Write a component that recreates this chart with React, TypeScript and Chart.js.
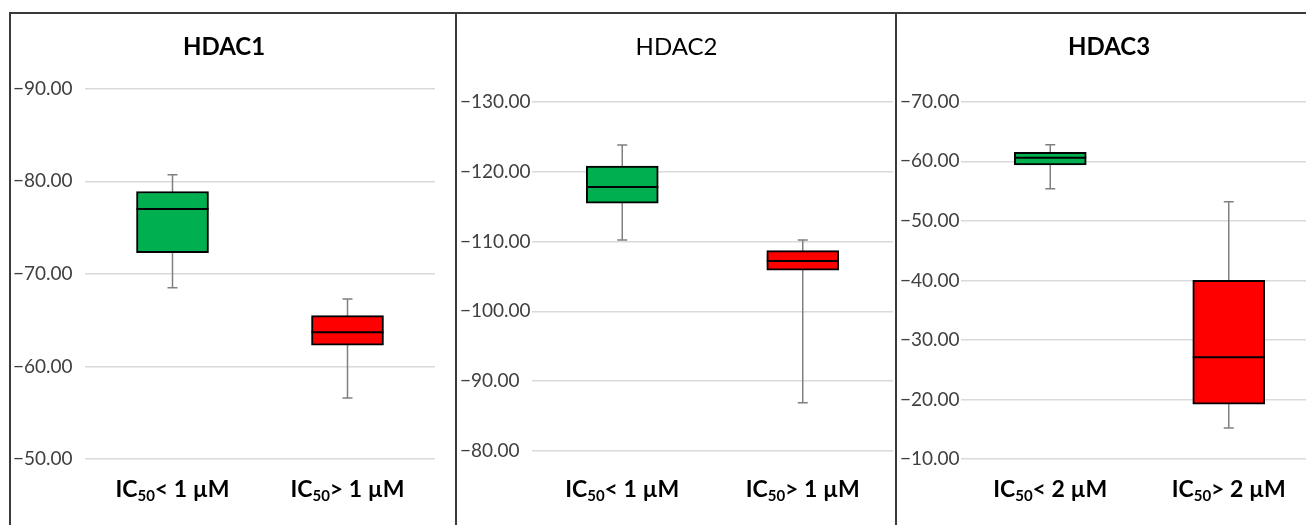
import React, { useEffect, useRef } from "react";
import { Chart, registerables } from "chart.js";
Chart.register(...registerables);

// ---------- data ----------
const hdac1Categories = ["IC50< 1 µM", "IC50> 1 µM"];
const hdac1WhiskerLow = [-80.7, -67.3];
const hdac1Q1 = [-78.9, -65.5];
const hdac1Median = [-77.0, -63.7];
const hdac1Q3 = [-72.3, -62.3];
const hdac1WhiskerHigh = [-68.5, -56.6];

const hdac2Categories = ["IC50< 1 µM", "IC50> 1 µM"];
const hdac2WhiskerLow = [-123.8, -110.2];
const hdac2Q1 = [-120.8, -108.7];
const hdac2Median = [-117.8, -107.2];
const hdac2Q3 = [-115.5, -105.9];
const hdac2WhiskerHigh = [-110.2, -86.9];

const hdac3Categories = ["IC50< 2 µM", "IC50> 2 µM"];
const hdac3WhiskerLow = [-62.8, -53.2];
const hdac3Q1 = [-61.5, -40.0];
const hdac3Median = [-60.6, -27.1];
const hdac3Q3 = [-59.4, -19.2];
const hdac3WhiskerHigh = [-55.4, -15.2];

const boxColors = ["#00B050", "#FF0000"];

const FONT = "Lato, 'Open Sans', sans-serif";

type PanelProps = {
  title: string;
  bold: boolean;
  categories: string[];
  lo: number[];
  q1: number[];
  med: number[];
  q3: number[];
  hi: number[];
  yMin: number;
  yMax: number;
  left: number;
  width: number;
  axisWidth: number;
  padRight: number;
  titleBottom: number;
  padBottom: number;
};

const CANVAS_TOP = 14;
const CANVAS_H = 511;

function Panel(p: PanelProps) {
  const ref = useRef<HTMLCanvasElement | null>(null);
  useEffect(() => {
    if (!ref.current) return;
    const boxPlugin = {
      id: "boxparts",
      beforeDatasetsDraw(chart: any) {
        const ctx = chart.ctx;
        const xs = chart.scales.x;
        const ys = chart.scales.y;
        ctx.save();
        ctx.strokeStyle = "#808080";
        ctx.lineWidth = 1.5;
        p.categories.forEach((_, i) => {
          const x = xs.getPixelForValue(i);
          const yl = ys.getPixelForValue(p.lo[i]);
          const yh = ys.getPixelForValue(p.hi[i]);
          ctx.beginPath();
          ctx.moveTo(x, yl);
          ctx.lineTo(x, yh);
          ctx.moveTo(x - 5, yl);
          ctx.lineTo(x + 5, yl);
          ctx.moveTo(x - 5, yh);
          ctx.lineTo(x + 5, yh);
          ctx.stroke();
        });
        ctx.restore();
      },
      afterDatasetsDraw(chart: any) {
        const ctx = chart.ctx;
        const ys = chart.scales.y;
        const meta = chart.getDatasetMeta(0);
        ctx.save();
        ctx.strokeStyle = "#000";
        ctx.lineWidth = 2;
        p.categories.forEach((_, i) => {
          const bar = meta.data[i];
          const y = ys.getPixelForValue(p.med[i]);
          ctx.beginPath();
          ctx.moveTo(bar.x - bar.width / 2, y);
          ctx.lineTo(bar.x + bar.width / 2, y);
          ctx.stroke();
        });
        ctx.restore();
      },
      afterDraw(chart: any) {
        const ctx = chart.ctx;
        const xs = chart.scales.x;
        const yPos = 490 - CANVAS_TOP;
        ctx.save();
        ctx.fillStyle = "#000";
        ctx.textBaseline = "middle";
        ctx.textAlign = "left";
        p.categories.forEach((lab, i) => {
          const m = lab.match(/^(IC)(50)(.*)$/);
          const pre = m ? m[1] : lab;
          const sub = m ? m[2] : "";
          const post = m ? m[3] : "";
          const mainFont = `bold 23px ${FONT}`;
          const subFont = `bold 15px ${FONT}`;
          ctx.font = mainFont;
          const w1 = ctx.measureText(pre).width;
          const w3 = ctx.measureText(post).width;
          ctx.font = subFont;
          const w2 = ctx.measureText(sub).width;
          const total = w1 + w2 + w3;
          let x = xs.getPixelForValue(i) - total / 2;
          ctx.font = mainFont;
          ctx.fillText(pre, x, yPos);
          x += w1;
          ctx.font = subFont;
          ctx.fillText(sub, x, yPos + 6);
          x += w2;
          ctx.font = mainFont;
          ctx.fillText(post, x, yPos);
        });
        ctx.restore();
      },
    };

    const chart = new Chart(ref.current, {
      type: "bar",
      data: {
        labels: p.categories,
        datasets: [
          {
            data: p.categories.map((_, i) => [p.q1[i], p.q3[i]]) as any,
            backgroundColor: boxColors,
            borderColor: "#000",
            borderWidth: 2,
            borderSkipped: false,
            barThickness: 72,
          },
        ],
      },
      options: {
        animation: false,
        responsive: false,
        maintainAspectRatio: false,
        layout: { padding: { left: 2, right: p.padRight, top: 0, bottom: p.padBottom } },
        plugins: {
          legend: { display: false },
          tooltip: { enabled: false },
          title: {
            display: true,
            text: p.title,
            color: "#000",
            font: { family: FONT, size: 24, weight: p.bold ? "bold" : "normal" },
            padding: { top: 19, bottom: p.titleBottom },
          },
        },
        scales: {
          x: {
            grid: { display: false, drawTicks: false },
            border: { display: false },
            ticks: { display: false, padding: 0 },
          },
          y: {
            reverse: true,
            min: p.yMin,
            max: p.yMax,
            ticks: {
              stepSize: 10,
              callback: (v: any) => Number(v).toFixed(2).replace("-", "\u2212"),
              font: { family: FONT, size: 19 },
              color: "#404040",
              crossAlign: "far",
              padding: 0,
            },
            grid: { color: "#dadada", lineWidth: 1.5, drawTicks: false },
            border: { display: false },
            afterFit: (s: any) => {
              s.width = p.axisWidth;
            },
          },
        },
      } as any,
      plugins: [boxPlugin],
    });
    return () => chart.destroy();
  }, []);
  return (
    <canvas
      ref={ref}
      width={p.width}
      height={CANVAS_H}
      style={{ position: "absolute", left: p.left, top: CANVAS_TOP, width: p.width, height: CANVAS_H, display: "block" }}
    />
  );
}

const lineStyle = (l: number, t: number, w: number, h: number): React.CSSProperties => ({
  position: "absolute",
  left: l,
  top: t,
  width: w,
  height: h,
  background: "#3a3a3a",
});

export default function App() {
  return (
    <div
      style={{
        position: "fixed",
        left: 0,
        top: 0,
        width: 1306,
        height: 525,
        overflow: "hidden",
        background: "#fff",
      }}
    >
      <Panel
        title="HDAC1"
        bold={true}
        categories={hdac1Categories}
        lo={hdac1WhiskerLow}
        q1={hdac1Q1}
        med={hdac1Median}
        q3={hdac1Q3}
        hi={hdac1WhiskerHigh}
        yMin={-90}
        yMax={-50}
        left={11}
        width={445}
        axisWidth={72}
        padRight={21}
        titleBottom={27}
        padBottom={66}
      />
      <Panel
        title="HDAC2"
        bold={false}
        categories={hdac2Categories}
        lo={hdac2WhiskerLow}
        q1={hdac2Q1}
        med={hdac2Median}
        q3={hdac2Q3}
        hi={hdac2WhiskerHigh}
        yMin={-130}
        yMax={-80}
        left={458}
        width={438}
        axisWidth={72}
        padRight={3}
        titleBottom={40}
        padBottom={74}
      />
      <Panel
        title="HDAC3"
        bold={true}
        categories={hdac3Categories}
        lo={hdac3WhiskerLow}
        q1={hdac3Q1}
        med={hdac3Median}
        q3={hdac3Q3}
        hi={hdac3WhiskerHigh}
        yMin={-70}
        yMax={-10}
        left={898}
        width={422}
        axisWidth={61}
        padRight={2}
        titleBottom={40}
        padBottom={66}
      />
      <div style={lineStyle(9, 12, 1297, 2)} />
      <div style={lineStyle(9, 12, 2, 513)} />
      <div style={lineStyle(455, 12, 2, 513)} />
      <div style={lineStyle(895, 12, 2, 513)} />
    </div>
  );
}
